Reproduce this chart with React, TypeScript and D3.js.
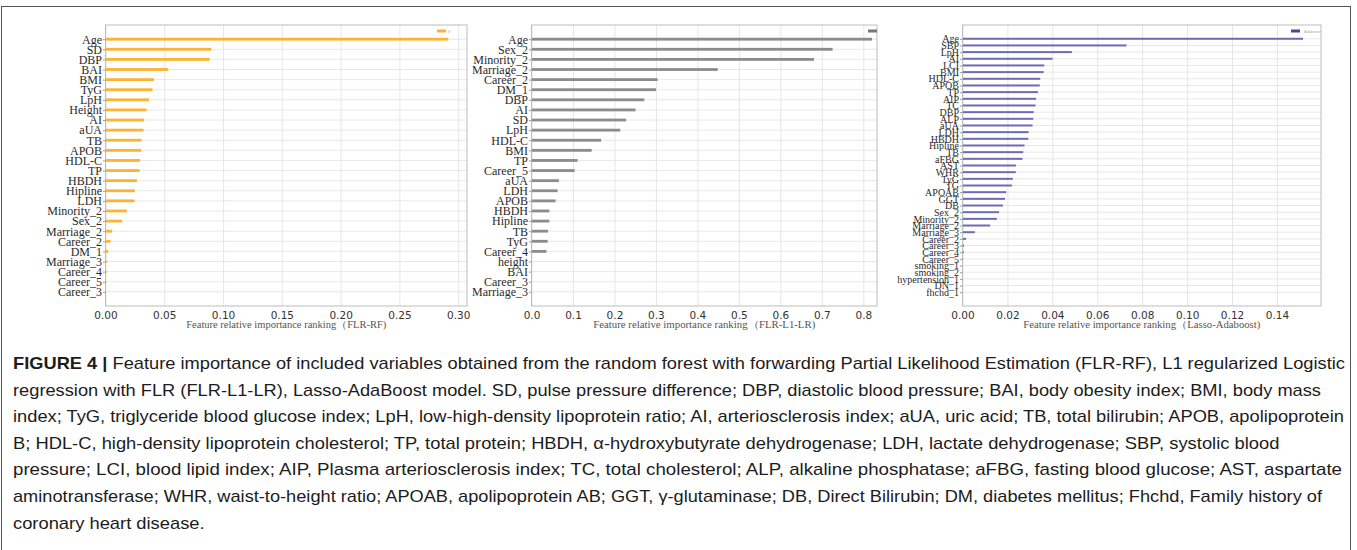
import { useEffect, useRef } from 'react';
import * as d3 from 'd3';

// FLR-RF
const rfLabels = ['Age', 'SD', 'DBP', 'BAI', 'BMI', 'TyG', 'LpH', 'Height', 'AI', 'aUA', 'TB', 'APOB', 'HDL-C', 'TP', 'HBDH', 'Hipline', 'LDH', 'Minority_2', 'Sex_2', 'Marriage_2', 'Career_2', 'DM_1', 'Marriage_3', 'Career_4', 'Career_5', 'Career_3'];
const rfValues = [0.2916, 0.09, 0.0886, 0.0534, 0.0412, 0.04, 0.0369, 0.0349, 0.0327, 0.0324, 0.0307, 0.0304, 0.0295, 0.029, 0.0267, 0.025, 0.0247, 0.0182, 0.0142, 0.0057, 0.0043, 0.0023, 0.0011, 0.0009, 0.0006, 0.0002];
const rfTicks = [0, 0.05, 0.1, 0.15, 0.2, 0.25, 0.3];

// FLR-L1-LR
const l1Labels = ['Age', 'Sex_2', 'Minority_2', 'Marriage_2', 'Career_2', 'DM_1', 'DBP', 'AI', 'SD', 'LpH', 'HDL-C', 'BMI', 'TP', 'Career_5', 'aUA', 'LDH', 'APOB', 'HBDH', 'Hipline', 'TB', 'TyG', 'Career_4', 'height', 'BAI', 'Career_3', 'Marriage_3'];
const l1Values = [0.821, 0.726, 0.681, 0.449, 0.304, 0.3, 0.272, 0.251, 0.228, 0.214, 0.168, 0.145, 0.111, 0.104, 0.066, 0.063, 0.058, 0.043, 0.043, 0.04, 0.039, 0.036, 0, 0, 0, 0];
const l1Ticks = [0, 0.1, 0.2, 0.3, 0.4, 0.5, 0.6, 0.7, 0.8];

// Lasso-Adaboost
const adaLabels = ['Age', 'SBP', 'LpH', 'AI', 'LCI', 'BMI', 'HDL-C', 'APOB', 'TP', 'AIP', 'TC', 'DBP', 'ALP', 'aUA', 'LDH', 'HBDH', 'Hipline', 'TB', 'aFBG', 'AST', 'WHR', 'TyG', 'TG', 'APOAB', 'GGT', 'DB', 'Sex_2', 'Minority_2', 'Marriage_2', 'Marriage_3', 'Career_2', 'Career_3', 'Career_4', 'Career_5', 'smoking_1', 'smoking_2', 'hypertension_1', 'DN_1', 'fhchd_1'];
const adaValues = [0.1516, 0.073, 0.0487, 0.0401, 0.0364, 0.0361, 0.0346, 0.0344, 0.0336, 0.0328, 0.0325, 0.0317, 0.0315, 0.0312, 0.0294, 0.0293, 0.0276, 0.027, 0.0267, 0.0238, 0.0237, 0.0224, 0.022, 0.0195, 0.0189, 0.018, 0.0163, 0.0153, 0.0123, 0.0055, 0.0016, 0.0007, 0.0006, 0.0003, 0.0002, 0.0001, 0.0001, 0.00005, 0];
const adaTicks = [0, 0.02, 0.04, 0.06, 0.08, 0.1, 0.12, 0.14];

const captionLines = [
  'Feature importance of included variables obtained from the random forest with forwarding Partial Likelihood Estimation (FLR-RF), L1 regularized Logistic',
  'regression with FLR (FLR-L1-LR), Lasso-AdaBoost model. SD, pulse pressure difference; DBP, diastolic blood pressure; BAI, body obesity index; BMI, body mass',
  'index; TyG, triglyceride blood glucose index; LpH, low-high-density lipoprotein ratio; AI, arteriosclerosis index; aUA, uric acid; TB, total bilirubin; APOB, apolipoprotein',
  'B; HDL-C, high-density lipoprotein cholesterol; TP, total protein; HBDH, \u03b1-hydroxybutyrate dehydrogenase; LDH, lactate dehydrogenase; SBP, systolic blood',
  'pressure; LCI, blood lipid index; AIP, Plasma arteriosclerosis index; TC, total cholesterol; ALP, alkaline phosphatase; aFBG, fasting blood glucose; AST, aspartate',
  'aminotransferase; WHR, waist-to-height ratio; APOAB, apolipoprotein AB; GGT, \u03b3-glutaminase; DB, Direct Bilirubin; DM, diabetes mellitus; Fhchd, Family history of',
  'coronary heart disease.',
];
// right end of each caption line (null = keep the common squeeze)
const captionEnds = [1345, 1321, 1344, null, 1342, 1322, null];

interface Panel {
  labels: string[];
  values: number[];
  ticks: number[];
  fmt: string;
  xMax: number;
  left: number;
  right: number;
  color: string;
  legendColor: string;
  legendText: string;
  barH: number;
  labelSize: number;
  title: string;
  titleWidth: number;
}

export default function App() {
  const svgRef = useRef<SVGSVGElement>(null);

  useEffect(() => {
    if (!svgRef.current) return;
    const svg = d3.select(svgRef.current);
    svg.selectAll('*').remove();

    const top = 25;
    const bottom = 306;

    const panels: Panel[] = [
      { labels: rfLabels, values: rfValues, ticks: rfTicks, fmt: '.2f', xMax: 0.3075, left: 105.5, right: 467, color: '#F9B434', legendColor: '#F7B52C', legendText: 'rf', barH: 0.28, labelSize: 12, title: 'Feature relative importance ranking\uff08FLR-RF)', titleWidth: 200 },
      { labels: l1Labels, values: l1Values, ticks: l1Ticks, fmt: '.1f', xMax: 0.833, left: 531.5, right: 877, color: '#8c8c8c', legendColor: '#777', legendText: '', barH: 0.28, labelSize: 12, title: 'Feature relative importance ranking\uff08FLR-L1-LR)', titleWidth: 222 },
      { labels: adaLabels, values: adaValues, ticks: adaTicks, fmt: '.2f', xMax: 0.1596, left: 962.5, right: 1321, color: '#6F6BB2', legendColor: '#4b4796', legendText: 'Adaboost', barH: 0.3, labelSize: 10, title: 'Feature relative importance ranking\uff08Lasso-Adaboost)', titleWidth: 237 },
    ];

    // outer frame
    svg.append('rect')
      .attr('x', 1.5).attr('y', 6.5).attr('width', 1349).attr('height', 560)
      .attr('fill', 'none').attr('stroke', '#555').attr('stroke-width', 1);

    panels.forEach((p) => {
      const n = p.labels.length;
      const pad = 0.05 * (n - 1 + p.barH) + p.barH / 2;
      const x = d3.scaleLinear().domain([0, p.xMax]).range([p.left, p.right]);
      const y = d3.scaleLinear().domain([-pad, n - 1 + pad]).range([top, bottom]);
      const step = y(1) - y(0);

      const g = svg.append('g');

      // horizontal grid
      g.append('g')
        .selectAll('line')
        .data(d3.range(n))
        .join('line')
        .attr('x1', p.left).attr('x2', p.right)
        .attr('y1', (i) => y(i)).attr('y2', (i) => y(i))
        .attr('stroke', '#e8e8e8').attr('stroke-width', 1);

      // vertical grid
      g.append('g')
        .attr('transform', `translate(0,${bottom})`)
        .call(d3.axisBottom(x).tickValues(p.ticks).tickSize(-(bottom - top)).tickFormat(() => ''))
        .call((a) => a.select('.domain').remove())
        .selectAll('line')
        .attr('stroke', '#e6e6e6');

      // bars
      g.append('g')
        .selectAll('rect')
        .data(p.values)
        .join('rect')
        .attr('x', x(0))
        .attr('y', (_, i) => y(i) - (p.barH * step) / 2)
        .attr('width', (d) => Math.max(0, x(d) - x(0)))
        .attr('height', p.barH * step)
        .attr('fill', p.color);

      // frame
      g.append('rect')
        .attr('x', p.left).attr('y', top)
        .attr('width', p.right - p.left).attr('height', bottom - top)
        .attr('fill', 'none').attr('stroke', '#bdbdbd').attr('stroke-width', 1);

      // y axis labels
      const ya = g.append('g')
        .attr('transform', `translate(${p.left},0)`)
        .call(d3.axisLeft(y).tickValues(d3.range(n)).tickFormat((i) => p.labels[+i]).tickSize(2.5).tickPadding(1));
      ya.select('.domain').remove();
      ya.selectAll('line').attr('stroke', '#999');
      ya.selectAll('text')
        .attr('font-family', '"Liberation Serif", "Times New Roman", serif')
        .attr('font-size', p.labelSize)
        .attr('fill', '#2a2a2a');

      // x axis
      const xa = g.append('g')
        .attr('transform', `translate(0,${bottom})`)
        .call(d3.axisBottom(x).tickValues(p.ticks).tickFormat(d3.format(p.fmt)).tickSize(0).tickPadding(6));
      xa.select('.domain').remove();
      xa.selectAll('text')
        .attr('font-family', '"DejaVu Sans", sans-serif')
        .attr('font-size', 10.5)
        .attr('fill', '#333');

      // axis title
      g.append('text')
        .attr('x', (p.left + p.right) / 2 - p.titleWidth / 2)
        .attr('y', 328)
        .attr('font-family', '"Liberation Serif", serif')
        .attr('font-size', 9.5)
        .attr('fill', '#555')
        .attr('textLength', p.titleWidth)
        .attr('lengthAdjust', 'spacingAndGlyphs')
        .text(p.title);

      // legend
      const lg = g.append('g').attr('transform', `translate(${p.right - 30},31)`);
      lg.append('rect').attr('x', p.legendText ? 0 : 21).attr('y', -1.5).attr('width', 9).attr('height', 3).attr('fill', p.legendColor);
      if (p.legendText) {
        lg.append('text')
          .attr('x', p.legendText.length > 2 ? 13 : 11)
          .attr('y', 1.5)
          .attr('font-family', 'sans-serif')
          .attr('font-size', 4)
          .attr('fill', '#aaa')
          .text(p.legendText);
      }
    });

    // caption
    const cap = svg.append('g')
      .attr('font-family', '"Liberation Sans Narrow", "Liberation Sans", Arial, sans-serif')
      .attr('font-size', 17)
      .attr('fill', '#1c1c1c');
    const startX = 13;
    const nodes: SVGTextElement[] = [];
    captionLines.forEach((line, i) => {
      const t = cap.append('text').attr('x', startX).attr('y', 369 + i * 26.6);
      if (i === 0) {
        t.append('tspan').attr('font-weight', 'bold').text('FIGURE 4 | ');
      }
      t.append('tspan').text(line);
      nodes.push(t.node() as SVGTextElement);
    });
    const natural = nodes.map((nd) => nd.getComputedTextLength());
    const ratios: number[] = [];
    captionEnds.forEach((e, i) => {
      if (e !== null && natural[i] > 0) ratios.push((e - startX) / natural[i]);
    });
    const k = d3.mean(ratios) ?? 1;
    nodes.forEach((nd, i) => {
      const e = captionEnds[i];
      const len = e !== null ? e - startX : natural[i] * k;
      d3.select(nd).attr('textLength', len).attr('lengthAdjust', 'spacingAndGlyphs');
    });
  }, []);

  return (
    <svg
      ref={svgRef}
      width={1357}
      height={550}
      style={{ position: 'absolute', left: 0, top: 0, background: '#fff' }}
    />
  );
}
